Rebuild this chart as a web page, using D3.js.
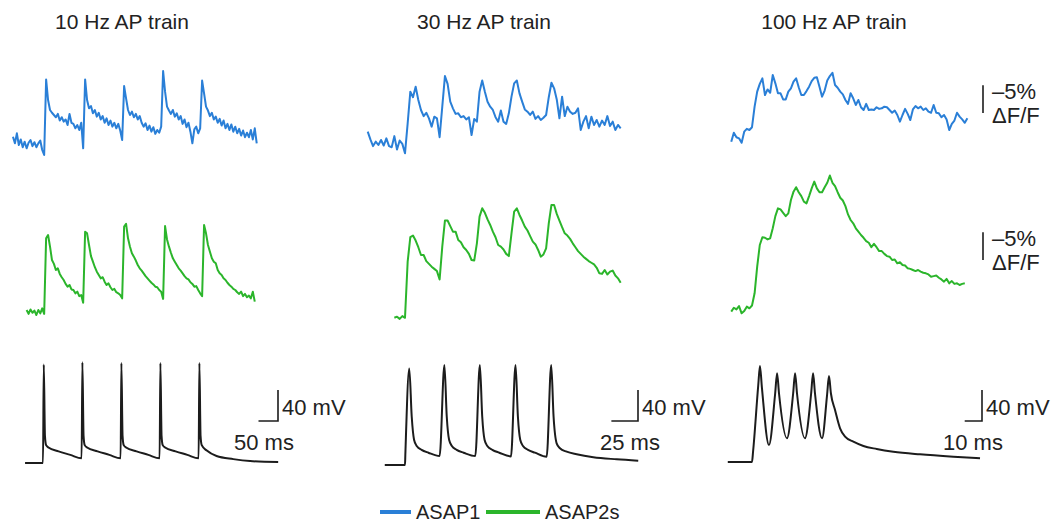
<!DOCTYPE html>
<html>
<head>
<meta charset="utf-8">
<script src="https://cdn.jsdelivr.net/npm/d3@7"></script>
<style>
  body { margin: 0; background: #fff; }
  text { font-family: Arial, "Liberation Sans", sans-serif; fill: #222; }
</style>
</head>
<body>
<svg width="1057" height="526"></svg>
<script>
/* global d3 */
var svg = d3.select('svg')

// ---------------- data ----------------
let titles = ['10 Hz AP train', '30 Hz AP train', '100 Hz AP train']
let timeBars = [50, 25, 10] // ms
let vmBar = 40 // mV
let dffBar = 5 // % (-dF/F)
let seriesNames = ['ASAP1', 'ASAP2s']

// fluorescence, -dF/F in %, uniformly sampled: [t0 (ms), dt (ms)]
let sampling10 = { asap1: [-77, 5], asap2s: [-42, 5] }
let sampling30 = { asap1: [-35, 2.5], asap2s: [-10, 2.5] }
let sampling100 = { asap1: [-12, 1.5], asap2s: [-12, 1.5] }

let asap1_10Hz = [
  2.4, 1.2, 3.0, 0.9, 1.9, 0.5, 1.5, 0.3, 1.3, 1.8, 0.7, 1.4, 0.5, 1.2, 1.7, 0.0, -0.9,
  12.7, 9.0, 7.2, 6.7, 6.3, 5.9, 6.5, 5.3, 5.9, 5.1, 5.5, 4.5, 6.5, 4.9, 4.7, 3.9, 4.5, 3.6, 4.9, 0.3,
  12.7, 9.0, 7.5, 7.9, 6.6, 7.2, 6.0, 6.7, 5.5, 6.1, 4.9, 5.7, 4.5, 5.3, 4.2, 4.9, 3.9, 4.7, 3.5, 1.8,
  11.5, 9.3, 7.2, 6.3, 6.9, 5.9, 6.5, 5.5, 6.1, 4.9, 4.2, 4.8, 3.6, 4.4, 3.3, 4.1, 2.9, 3.6, 3.1, 4.2,
  14.2, 10.5, 7.8, 7.1, 6.5, 7.2, 6.0, 6.6, 5.5, 6.1, 4.7, 5.5, 4.1, 4.9, 3.3, 1.2, 3.7, 4.2, 3.0, 3.9,
  12.5, 10.2, 7.8, 7.1, 6.1, 6.7, 5.5, 6.0, 4.9, 5.6, 4.4, 5.3, 3.9, 4.7, 3.6, 4.6, 3.3, 4.2, 3.0, 3.8,
  2.6, 3.5, 2.3, 3.1, 2.3, 3.6, 1.9, 3.9, 1.2
]
let asap2s_10Hz = [
  1.8, 1.1, 1.9, 1.3, 1.7, 0.9, 1.8, 1.2, 2.1, 1.1,
  14.7, 15.3, 13.2, 10.8, 10.1, 9.0, 9.3, 8.3, 7.7, 7.2, 6.5, 6.0, 6.3, 5.5, 5.4, 4.8, 5.1, 4.3, 4.5, 3.1,
  15.9, 15.6, 13.5, 11.5, 10.5, 9.5, 8.7, 8.1, 7.5, 7.7, 6.9, 6.3, 6.6, 5.9, 5.4, 5.6, 5.0, 4.8, 4.5, 3.9,
  16.8, 17.3, 14.7, 13.2, 12.0, 11.4, 10.7, 9.9, 9.3, 8.9, 8.4, 7.9, 7.5, 7.1, 6.7, 6.4, 6.0, 5.9, 5.4, 5.1,
  3.8, 16.9, 14.5, 13.2, 12.1, 11.1, 10.5, 9.9, 9.3, 8.9, 8.4, 7.9, 7.5, 7.3, 6.8, 6.5, 6.0, 6.1, 5.4, 4.8,
  4.3, 17.1, 15.6, 13.5, 12.3, 11.1, 10.5, 10.2, 9.0, 8.4, 8.1, 7.5, 7.2, 6.7, 6.3, 6.0, 5.6, 5.4, 5.0, 4.7,
  5.1, 4.3, 4.7, 4.1, 4.4, 3.9, 5.1, 3.3
]
let asap1_30Hz = [
  3.3, 1.9, 0.7, 1.5, 0.9, 1.8, 0.8, 2.1, 0.7, 0.5,
  2.5, 0.1, 1.7, 1.1, -0.6, 4.8, 10.5, 9.5, 11.4, 9.0,
  7.2, 6.1, 6.7, 5.7, 4.2, 6.0, 5.7, 2.3, 7.8, 13.3,
  11.9, 8.7, 7.5, 6.5, 6.6, 5.9, 6.1, 5.5, 5.9, 2.7,
  5.6, 5.1, 10.5, 12.5, 10.5, 8.7, 7.8, 7.2, 5.9, 5.1,
  7.1, 5.1, 4.7, 6.6, 9.6, 12.0, 12.5, 10.2, 8.7, 7.3,
  6.9, 6.3, 6.9, 5.6, 6.1, 5.4, 5.8, 6.3, 9.5, 12.1,
  11.1, 9.1, 5.7, 9.6, 6.1, 7.8, 6.9, 6.5, 6.7, 7.5,
  3.6, 5.1, 6.1, 3.9, 6.0, 4.5, 5.4, 4.2, 5.3, 4.5,
  6.1, 4.3, 5.1, 3.6, 4.5, 3.9
]
let asap2s_30Hz = [
  0.4, 0.6, 0.2, 0.7, 0.4, 10.5, 14.9, 15.2, 14.3, 13.1,
  11.7, 11.7, 10.6, 10.1, 9.6, 9.2, 8.8, 7.3, 13.2, 17.9,
  17.9, 16.9, 15.9, 15.9, 14.4, 14.0, 13.1, 12.6, 11.9, 10.8,
  10.7, 13.8, 18.6, 20.1, 19.3, 18.1, 17.1, 15.9, 14.9, 13.5,
  13.2, 12.7, 11.9, 11.5, 15.6, 19.5, 20.1, 18.9, 17.9, 16.8,
  16.1, 15.1, 14.1, 13.6, 12.6, 11.4, 11.8, 12.9, 17.4, 20.7,
  20.7, 19.1, 17.9, 16.7, 15.6, 15.2, 14.6, 13.8, 13.1, 12.4,
  11.9, 11.4, 11.0, 10.6, 10.3, 10.0, 9.4, 8.4, 8.3, 9.0,
  8.2, 8.7, 8.9, 8.0, 7.5, 6.7
]
let asap1_100Hz = [
  1.5, 3.1, 2.3, 2.1, 1.3, 3.3, 3.8, 3.6, 4.1, 7.8,
  10.5, 11.9, 12.9, 9.9, 10.9, 10.3, 13.5, 12.0, 10.2, 10.2,
  9.1, 9.1, 10.5, 11.1, 12.3, 12.9, 11.3, 9.9, 9.9, 10.6,
  11.4, 12.4, 13.0, 13.1, 11.4, 9.6, 10.7, 12.5, 13.3, 13.9,
  11.7, 11.2, 10.5, 10.0, 9.0, 8.3, 10.2, 9.3, 8.1, 9.0,
  7.7, 7.2, 8.3, 7.2, 7.3, 7.2, 7.7, 7.4, 7.5, 7.8,
  7.7, 7.2, 6.7, 7.1, 6.3, 5.1, 6.3, 7.4, 6.5, 5.4,
  7.3, 7.9, 7.5, 7.8, 7.2, 7.5, 6.9, 6.7, 8.1, 6.7,
  6.6, 5.9, 6.3, 5.5, 3.6, 4.7, 5.3, 6.7, 6.0, 5.5,
  4.9, 5.7
]
let asap2s_100Hz = [
  1.5, 2.2, 1.9, 2.5, 1.2, 1.6, 2.4, 2.1, 2.6, 4.8,
  9.6, 13.5, 14.9, 14.8, 14.5, 14.7, 16.5, 18.7, 20.1, 19.9,
  19.3, 18.7, 19.2, 21.6, 23.1, 23.9, 23.0, 22.3, 21.3, 21.0,
  22.3, 23.7, 24.9, 23.7, 23.0, 23.0, 23.9, 24.7, 26.0, 24.7,
  24.1, 23.0, 22.0, 21.5, 20.5, 19.0, 18.0, 17.4, 16.5, 15.9,
  15.3, 14.8, 14.2, 13.9, 13.1, 13.7, 13.1, 12.4, 12.4, 11.9,
  11.5, 11.4, 10.8, 10.9, 10.2, 10.4, 9.9, 9.8, 9.3, 9.2,
  9.0, 8.8, 9.0, 8.7, 8.5, 8.4, 8.2, 7.8, 7.9, 8.0,
  7.6, 7.3, 6.9, 7.4, 6.6, 7.0, 6.5, 6.6, 6.3, 6.5,
  6.6
]

// membrane potential [t (ms), Vm (mV)]
let vm_10Hz = [
  [-46, -70], [0, -70], [2, 57], [5, -35], [8, -47], [14, -50], [40, -55], [70, -59.5], [99, -64],
  [101, 60], [104, -35], [107, -47], [113, -50], [140, -55], [170, -59.5], [199, -64],
  [201, 59], [204, -35], [207, -47], [213, -50], [240, -55], [270, -59.5], [299, -64],
  [301, 59], [304, -35], [307, -47], [313, -50], [340, -55], [370, -59.5], [399, -64],
  [401, 59], [404, -35], [407, -47], [420, -54], [445, -61], [488, -65], [531, -67.5], [603, -68.7]
]
let vm_30Hz = [
  [-19, -72.6], [0, -72.6], [0.3, -60], [4, 52], [6.3, -10], [8.5, -40], [11, -48], [15.6, -53], [22, -56.7], [32.5, -61],
  [37, 56.5], [39.2, -10], [41.4, -40], [44, -48], [48.5, -53], [55, -56.7], [66, -61],
  [70.3, 56.5], [72.5, -10], [74.7, -40], [77.3, -48], [82, -53], [88.5, -56.7], [99.5, -61.5],
  [103.8, 56.5], [106, -10], [108.2, -40], [110.8, -48], [115.5, -53], [122, -56.7], [133, -62],
  [137.3, 56.5], [139.5, -10], [142.4, -44.6], [145.5, -51], [151.8, -55.4], [161.2, -58.8],
  [176.8, -62.6], [198.8, -65.2], [219, -67]
]
let vm_100Hz = [
  [-14, -68.7], [0, -68.7], [0.6, -55.8], [3.6, 30], [4.6, 55.2], [5.7, 28], [9.8, -46.8],
  [13.4, 20], [14.5, 45.7], [15.6, 20], [20.2, -38.1],
  [23.8, 20], [24.9, 45.7], [26, 20], [30.6, -38.1],
  [34.2, 20], [35.3, 45.7], [36.4, 20], [40.5, -38.1],
  [43.4, 18], [44.5, 42.3], [45.6, 20], [48, -1.6], [50.9, -25.2],
  [53.8, -36.1], [58.6, -42.5], [64.4, -48.1], [72.1, -51.9], [81.7, -55.4], [97.1, -58.8],
  [116.4, -61.9], [131.8, -63.9]
]

// ---------------- layout ----------------
let blueC = '#2a7fd7'
let greenC = '#2bb52b'
let blackC = '#1c1c1c'

let panels = [
  { x0: 43, pxPerMs: 0.39, titleX: 122, barRight: 278, msLabelX: 234 },
  { x0: 405, pxPerMs: 1.065, titleX: 484, barRight: 638, msLabelX: 600 },
  { x0: 752, pxPerMs: 1.73, titleX: 834, barRight: 982, msLabelX: 943 }
]

var xScales = panels.map(p => d3.scaleLinear()
  .domain([0, 100]).range([p.x0, p.x0 + 100 * p.pxPerMs]))
var yBlue = d3.scaleLinear().domain([0, 10]).range([150, 94.44])
var yGreen = d3.scaleLinear().domain([0, 10]).range([320, 264.44])
var yVm = d3.scaleLinear().domain([-70, 0]).range([463, 408.75])

function sampled (vals, s) {
  return vals.map((v, i) => [s[0] + i * s[1], v])
}

let fluo = [
  [asap1_10Hz, asap2s_10Hz, sampling10],
  [asap1_30Hz, asap2s_30Hz, sampling30],
  [asap1_100Hz, asap2s_100Hz, sampling100]
]
let vms = [vm_10Hz, vm_30Hz, vm_100Hz]

panels.forEach((p, i) => {
  var x = xScales[i]
  var g = svg.append('g').attr('class', 'panel')

  g.append('text')
    .attr('x', p.titleX).attr('y', 29)
    .attr('text-anchor', 'middle')
    .style('font-size', '21px')
    .text(titles[i])

  var blueLine = d3.line().x(d => x(d[0])).y(d => yBlue(d[1]))
  var greenLine = d3.line().x(d => x(d[0])).y(d => yGreen(d[1]))
  var vmLine = d3.line().x(d => x(d[0])).y(d => yVm(d[1])).curve(d3.curveMonotoneX)

  g.append('path')
    .datum(sampled(fluo[i][0], fluo[i][2].asap1))
    .attr('d', blueLine)
    .attr('fill', 'none').attr('stroke', blueC)
    .attr('stroke-width', 2).attr('stroke-linejoin', 'round')

  g.append('path')
    .datum(sampled(fluo[i][1], fluo[i][2].asap2s))
    .attr('d', greenLine)
    .attr('fill', 'none').attr('stroke', greenC)
    .attr('stroke-width', 2).attr('stroke-linejoin', 'round')

  g.append('path')
    .datum(vms[i])
    .attr('d', vmLine)
    .attr('fill', 'none').attr('stroke', blackC)
    .attr('stroke-width', 2).attr('stroke-linejoin', 'round')

  // scale bars: time + voltage
  var barLen = x(timeBars[i]) - x(0)
  var vLen = yVm(-70) - yVm(-70 + vmBar)
  var by = 421
  g.append('path')
    .attr('d', 'M' + (p.barRight - barLen) + ',' + by + 'H' + p.barRight + 'V' + (by - vLen))
    .attr('fill', 'none').attr('stroke', blackC).attr('stroke-width', 1.6)
  g.append('text')
    .attr('x', p.barRight + 4).attr('y', 415)
    .style('font-size', '22px')
    .text(vmBar + ' mV')
  g.append('text')
    .attr('x', p.msLabelX).attr('y', 450)
    .style('font-size', '22px')
    .text(timeBars[i] + ' ms')
})

// dF/F scale bars (right column)
var dffLen = yBlue(0) - yBlue(dffBar)
;[[yBlue, 113, 99], [yGreen, 260, 246]].forEach(r => {
  svg.append('line')
    .attr('x1', 983).attr('x2', 983)
    .attr('y1', r[1]).attr('y2', r[1] - dffLen)
    .attr('stroke', blackC).attr('stroke-width', 1.6)
  svg.append('text')
    .attr('x', 992).attr('y', r[2])
    .style('font-size', '22px')
    .text('\u2013' + dffBar + '%')
  svg.append('text')
    .attr('x', 992).attr('y', r[2] + 24)
    .style('font-size', '22px')
    .text('\u0394F/F')
})

// legend
let legendPos = [{ x1: 380, x2: 411, tx: 416 }, { x1: 486, x2: 540, tx: 545 }]
;[blueC, greenC].forEach((c, i) => {
  svg.append('line')
    .attr('x1', legendPos[i].x1).attr('x2', legendPos[i].x2)
    .attr('y1', 512).attr('y2', 512)
    .attr('stroke', c).attr('stroke-width', 4)
  svg.append('text')
    .attr('x', legendPos[i].tx).attr('y', 519)
    .style('font-size', '20px')
    .text(seriesNames[i])
})
</script>
</body>
</html>
